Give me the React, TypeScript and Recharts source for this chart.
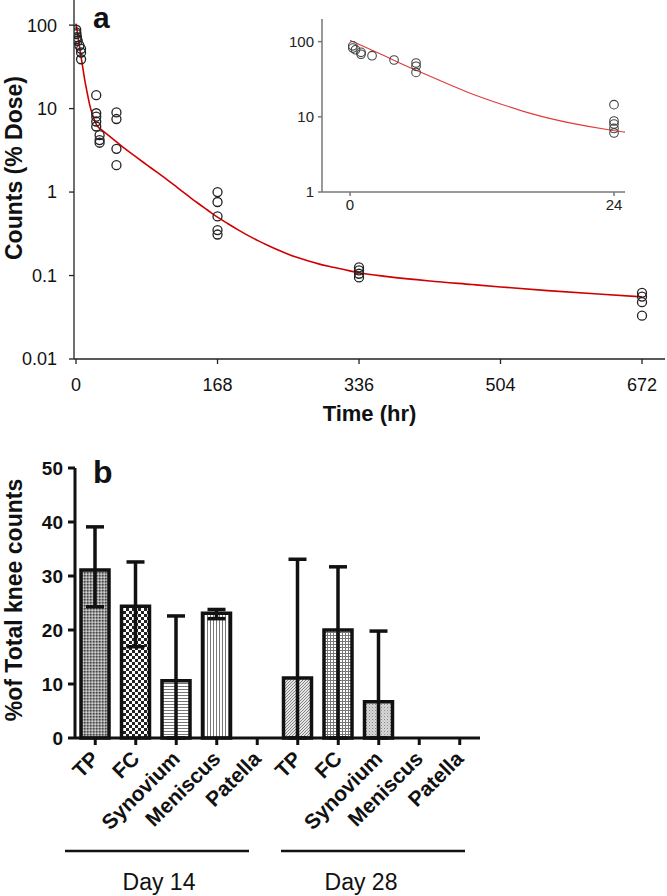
import React from 'react';
import { ComposedChart, Scatter, Line, XAxis, YAxis, BarChart, Bar, Cell, ErrorBar } from 'recharts';

const FONT = '"Liberation Sans", Arial, Helvetica, sans-serif';

// ---- Panel a: observed counts (% dose) vs time (hr)
const obsTime = [0.25, 0.25, 0.5, 1, 1, 2, 4, 6, 6, 6, 24, 24, 24, 24, 24, 28, 28, 28, 48, 48, 48, 48, 168, 168, 168, 168, 168, 336, 336, 336, 336, 672, 672, 672, 672];
const obsCount = [88, 82, 78, 72, 68, 65, 57, 52, 47, 39, 14.5, 8.8, 8.0, 7.0, 6.1, 4.8, 4.2, 3.9, 9.0, 7.5, 3.3, 2.1, 1.0, 0.76, 0.51, 0.35, 0.31, 0.125, 0.115, 0.105, 0.095, 0.062, 0.056, 0.048, 0.033];

// fitted curve
const fitTime = [0, 1, 2, 3, 4.75, 6, 8, 10.7, 13, 16.6, 20, 24, 25, 30, 36, 48, 60, 72, 84, 96, 108, 120, 132, 144, 156, 168, 180, 192, 204, 216, 228, 240, 252, 264, 276, 288, 300, 318, 336, 370, 420, 470, 504, 560, 620, 672];
const fitCount = [104, 90, 77, 66, 50, 41.7, 31.1, 21, 16.0, 10.7, 8.2, 6.5, 6.25, 5.6, 5.0, 4.0, 3.2, 2.6, 2.12, 1.73, 1.41, 1.14, 0.92, 0.745, 0.61, 0.5, 0.42, 0.355, 0.303, 0.262, 0.229, 0.202, 0.18, 0.163, 0.149, 0.138, 0.129, 0.118, 0.108, 0.097, 0.086, 0.078, 0.073, 0.066, 0.06, 0.0555];

const mainXTicks = [0, 168, 336, 504, 672];
const mainYTicks = [0.01, 0.1, 1, 10, 100];
const insetXTicks = [0, 24];
const insetYTicks = [1, 10, 100];

// ---- Panel b: % of total knee counts
const tissueLabels = ['TP', 'FC', 'Synovium', 'Meniscus', 'Patella', 'TP', 'FC', 'Synovium', 'Meniscus', 'Patella'];
const tissueMeans: (number | null)[] = [31.1, 24.4, 10.6, 23.1, null, 11.1, 20.0, 6.7, null, null];
const errLow: (number | null)[] = [6.8, 7.5, 10.6, 1.0, null, 11.1, 20.0, 6.7, null, null];
const errHigh: (number | null)[] = [8.0, 8.2, 12.0, 0.7, null, 22.0, 11.7, 13.1, null, null];
const barYTicks = [0, 10, 20, 30, 40, 50];
const patternIds = ['pTP14', 'pFC14', 'pSyn14', 'pMen14', 'none', 'pTP28', 'pFC28', 'pSyn28', 'none', 'none'];
const groupLabels = ['Day 14', 'Day 28'];

const obsData = obsTime.map((t, i) => ({ t, v: obsCount[i] }));
const insetObsData = obsData.filter((d) => d.t <= 24);
const fitData = fitTime.map((t, i) => ({ t, v: fitCount[i] }));
const insetFitData = fitData.filter((d) => d.t <= 25);
const barData = tissueLabels.map((name, i) => ({
  id: 'c' + i,
  name,
  mean: tissueMeans[i],
  err: tissueMeans[i] === null ? null : [errLow[i], errHigh[i]],
}));

const circle = (r: number, stroke: string, sw: number) => (p: any) => (
  <circle cx={p.cx} cy={p.cy} r={r} fill="none" stroke={stroke} strokeWidth={sw} />
);

const BarTick = (props: any) => {
  const { x, y, index } = props;
  return (
    <text
      transform={`translate(${x + 5},${y + 13}) rotate(-45)`}
      textAnchor="end"
      fontSize={21}
      fontWeight="bold"
      fontFamily={FONT}
      fill="#111"
    >
      {tissueLabels[index]}
    </text>
  );
};

export default function App() {
  return (
    <div style={{ position: 'absolute', left: 0, top: 0, width: 667, height: 896, background: '#fff', fontFamily: FONT }}>
      <svg width={0} height={0} style={{ position: 'absolute' }}>
        <defs>
          <pattern id="pTP14" width="3" height="3" patternUnits="userSpaceOnUse">
            <rect width="3" height="3" fill="#9a9a9a" />
            <rect width="1.5" height="1.5" fill="#444" />
            <rect x="1.5" y="1.5" width="1.5" height="1.5" fill="#cfcfcf" />
          </pattern>
          <pattern id="pFC14" width="6" height="6" patternUnits="userSpaceOnUse">
            <rect width="6" height="6" fill="#fff" />
            <rect width="3" height="3" fill="#222" />
            <rect x="3" y="3" width="3" height="3" fill="#222" />
          </pattern>
          <pattern id="pSyn14" width="4" height="3" patternUnits="userSpaceOnUse">
            <rect width="4" height="3" fill="#fff" />
            <rect width="4" height="1" fill="#777" />
          </pattern>
          <pattern id="pMen14" width="3" height="4" patternUnits="userSpaceOnUse">
            <rect width="3" height="4" fill="#fff" />
            <rect width="1" height="4" fill="#777" />
          </pattern>
          <pattern id="pTP28" width="3" height="3" patternUnits="userSpaceOnUse">
            <rect width="3" height="3" fill="#e6e6e6" />
            <path d="M0,3 L3,0" stroke="#777" strokeWidth="0.9" />
          </pattern>
          <pattern id="pFC28" width="3" height="3" patternUnits="userSpaceOnUse">
            <rect width="3" height="3" fill="#fff" />
            <rect width="3" height="1" fill="#777" />
            <rect width="1" height="3" fill="#777" />
          </pattern>
          <pattern id="pSyn28" width="3" height="3" patternUnits="userSpaceOnUse">
            <rect width="3" height="3" fill="#d8d8d8" />
            <rect width="1" height="1" fill="#888" />
            <rect x="1.5" y="1.5" width="1" height="1" fill="#aaa" />
          </pattern>
        </defs>
      </svg>

      {/* Panel a main chart */}
      <div style={{ position: 'absolute', left: 0, top: 0 }}>
        <ComposedChart width={667} height={430} margin={{ top: 0, right: 2, bottom: 1, left: 0 }}>
          <XAxis
            dataKey="t"
            type="number"
            domain={[-2.4, 699.3]}
            ticks={mainXTicks}
            allowDataOverflow
            height={70}
            tickSize={5}
            tickMargin={14}
            stroke="#222"
            strokeWidth={1.3}
            tick={{ fontSize: 18, fill: '#111', fontFamily: FONT }}
            label={{ value: 'Time (hr)', position: 'insideBottom', offset: 8, style: { fontSize: 22, fontWeight: 'bold', fill: '#111', fontFamily: FONT } }}
          />
          <YAxis
            dataKey="v"
            type="number"
            scale="log"
            domain={[0.01, 200]}
            ticks={mainYTicks}
            allowDataOverflow
            width={74}
            tickSize={5}
            tickMargin={12}
            stroke="#222"
            strokeWidth={1.3}
            tick={{ fontSize: 18, fill: '#111', fontFamily: FONT }}
          />
          <Line data={fitData} dataKey="v" type="monotone" stroke="#d10000" strokeWidth={1.6} dot={false} isAnimationActive={false} />
          <Scatter data={obsData} dataKey="v" shape={circle(4.5, '#222', 1.3)} isAnimationActive={false} />
        </ComposedChart>
      </div>

      {/* Inset: first 24 h */}
      <div style={{ position: 'absolute', left: 280, top: 0 }}>
        <ComposedChart width={350} height={220} margin={{ top: 19, right: 5, bottom: 0, left: 0 }}>
          <XAxis
            dataKey="t"
            type="number"
            domain={[-2.55, 25]}
            ticks={insetXTicks}
            allowDataOverflow
            height={28}
            tickSize={4}
            tickMargin={3}
            stroke="#777"
            strokeWidth={1.5}
            tick={{ fontSize: 15, fill: '#222', fontFamily: FONT }}
          />
          <YAxis
            dataKey="v"
            type="number"
            scale="log"
            domain={[1, 200]}
            ticks={insetYTicks}
            allowDataOverflow
            width={42}
            tickSize={4}
            tickMargin={4}
            stroke="#777"
            strokeWidth={1.5}
            tick={{ fontSize: 15, fill: '#222', fontFamily: FONT }}
          />
          <Line data={insetFitData} dataKey="v" type="basis" stroke="#e03a3a" strokeWidth={1.1} dot={false} isAnimationActive={false} />
          <Scatter data={insetObsData} dataKey="v" shape={circle(4.3, '#444', 1.1)} isAnimationActive={false} />
        </ComposedChart>
      </div>

      {/* Panel b bar chart */}
      <div style={{ position: 'absolute', left: 0, top: 440 }}>
        <BarChart width={500} height={398} data={barData} margin={{ top: 28, right: 20, bottom: 0, left: 0 }} barSize={28}>
          <XAxis
            dataKey="id"
            height={100}
            tickSize={7}
            tickMargin={2}
            stroke="#111"
            strokeWidth={3}
            tickLine={{ stroke: '#111', strokeWidth: 3 }}
            tick={<BarTick />}
            interval={0}
          />
          <YAxis
            type="number"
            domain={[0, 50]}
            ticks={barYTicks}
            width={75}
            tickSize={7}
            tickMargin={5}
            stroke="#111"
            strokeWidth={3}
            tickLine={{ stroke: '#111', strokeWidth: 3 }}
            tick={{ fontSize: 19, fontWeight: 'bold', fill: '#111', fontFamily: FONT }}
          />
          <Bar dataKey="mean" stroke="#111" strokeWidth={3.5} isAnimationActive={false}>
            {barData.map((d, i) => (
              <Cell key={d.id} fill={patternIds[i] === 'none' ? '#fff' : `url(#${patternIds[i]})`} />
            ))}
            <ErrorBar dataKey="err" direction="y" width={9} stroke="#111" strokeWidth={3.5} isAnimationActive={false} />
          </Bar>
        </BarChart>
      </div>

      {/* Overlay text & decorations */}
      <svg width={667} height={896} style={{ position: 'absolute', left: 0, top: 0, pointerEvents: 'none' }}>
        <text x={93} y={28} fontSize={30} fontWeight="bold" fill="#111" fontFamily={FONT}>a</text>
        <text transform="translate(22,168) rotate(-90)" textAnchor="middle" fontSize={23} fontWeight="bold" fill="#111" fontFamily={FONT}>
          Counts (% Dose)
        </text>
        <text x={93} y={483} fontSize={32} fontWeight="bold" fill="#111" fontFamily={FONT}>b</text>
        <text transform="translate(22,600) rotate(-90)" textAnchor="middle" fontSize={23} fontWeight="bold" fill="#111" fontFamily={FONT}>
          %of Total knee counts
        </text>
        <line x1={65} y1={851} x2={249} y2={851} stroke="#111" strokeWidth={2.5} />
        <line x1={281} y1={851} x2={465} y2={851} stroke="#111" strokeWidth={2.5} />
        <text x={159} y={890} textAnchor="middle" fontSize={23} fill="#111" fontFamily={FONT}>{groupLabels[0]}</text>
        <text x={361} y={890} textAnchor="middle" fontSize={23} fill="#111" fontFamily={FONT}>{groupLabels[1]}</text>
      </svg>
    </div>
  );
}
